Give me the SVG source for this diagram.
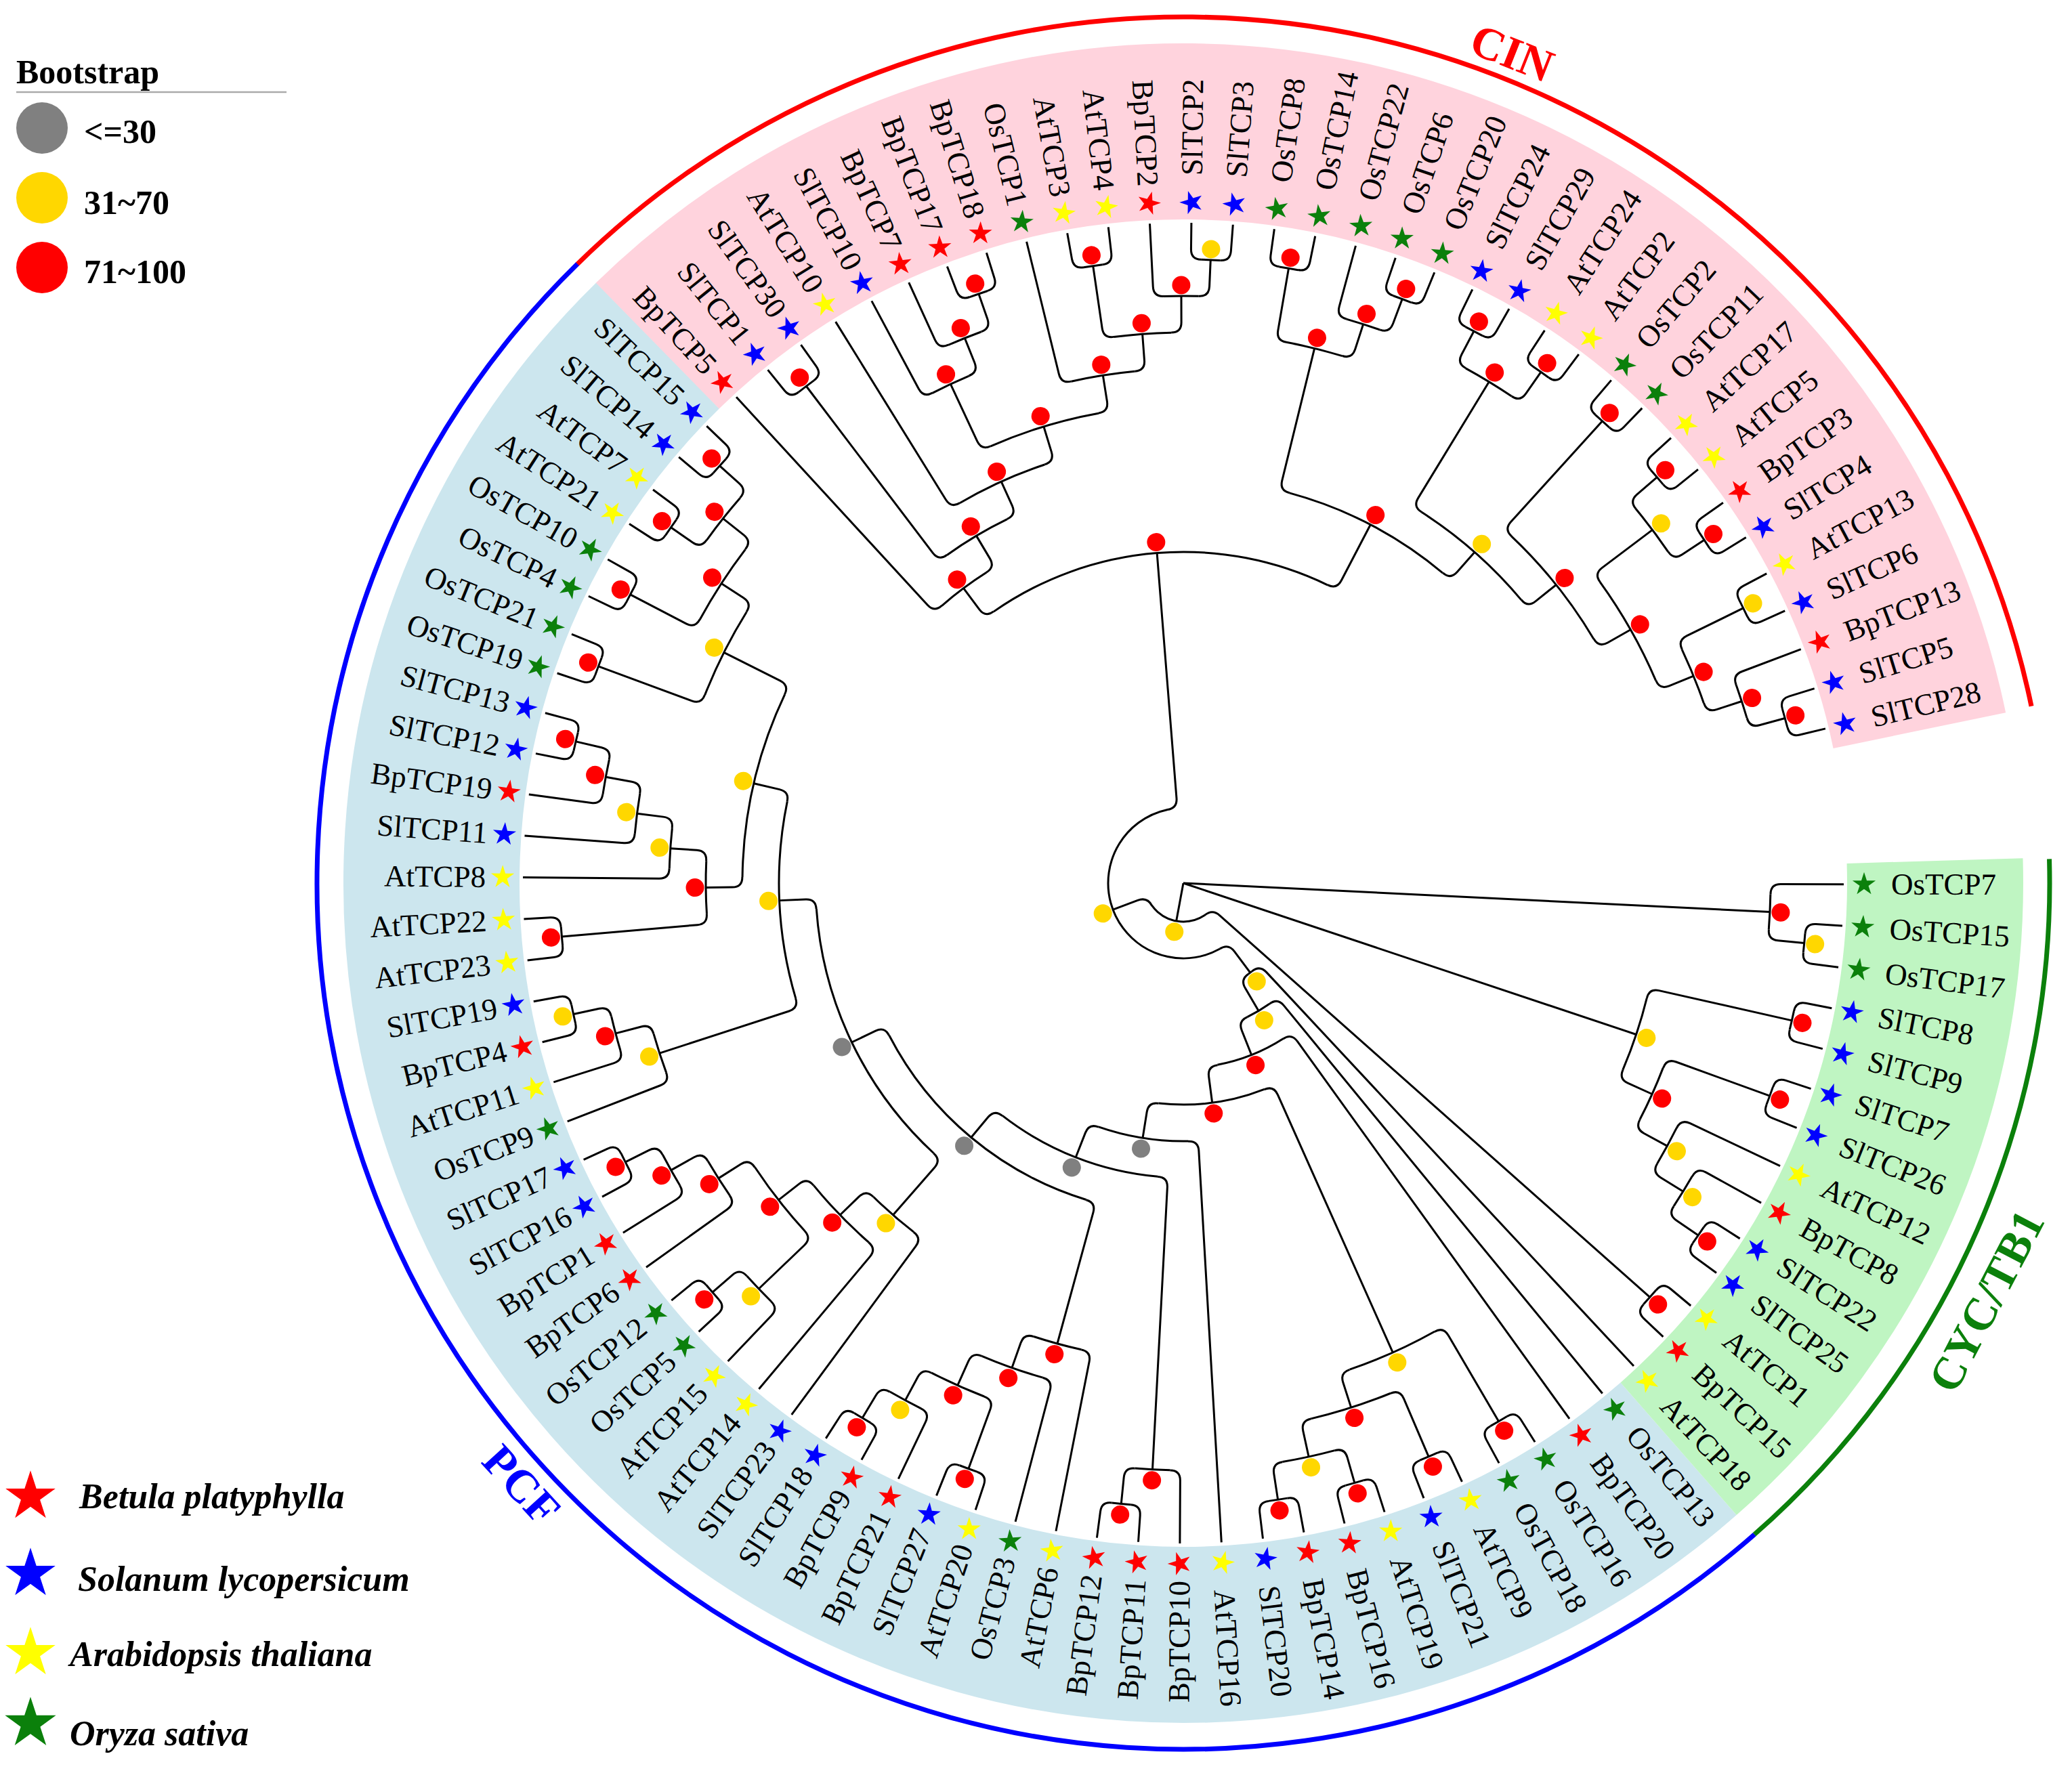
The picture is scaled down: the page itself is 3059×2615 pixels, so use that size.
<svg xmlns="http://www.w3.org/2000/svg" xmlns:xlink="http://www.w3.org/1999/xlink" width="3059" height="2615" viewBox="0 0 3059 2615">
<style>
.c{fill:none;stroke:#000;stroke-width:3}
.k{stroke-dasharray:0 15 28 99999}
.lb{font-family:"Liberation Serif","Times New Roman",serif;font-size:45px;fill:#000}
.e{text-anchor:end}
.R{fill:#FF0000}.B{fill:#0000FF}.Y{fill:#FFFF00}.G{fill:#0B800B}
.dr{fill:#FF0000}.dy{fill:#FFD700}.dg{fill:#808080}
.cl{font-family:"Liberation Serif","Times New Roman",serif;font-size:68px;font-weight:bold;text-anchor:middle}
.lg{font-family:"Liberation Serif","Times New Roman",serif;font-size:50px;font-weight:bold;fill:#000}
.sp{font-family:"Liberation Serif","Times New Roman",serif;font-size:52px;font-weight:bold;font-style:italic;fill:#000}
</style>
<defs>
<path id="s" d="M0-18L4.04-5.56L17.12-5.56L6.54 2.12L10.58 14.56L0 6.88L-10.58 14.56L-6.54 2.12L-17.12-5.56L-4.04-5.56Z"/>
</defs>
<rect width="3059" height="2615" fill="#fff"/>
<g id="bands" transform="translate(1747 1304)" fill="none" stroke-width="260">
<circle r="1110" stroke="#FFD3DD" transform="rotate(225.6)" stroke-dasharray="2376.5 99999"/>
<circle r="1110" stroke="#CCE6EE" transform="rotate(48.805)" stroke-dasharray="3425.2 99999"/>
<circle r="1110" stroke="#BFF5C2" transform="rotate(-1.7)" stroke-dasharray="978.3 99999"/>
</g>
<g id="clade-arcs" transform="translate(1747 1304)" fill="none" stroke-width="7">
<circle r="1279" stroke="#FF0000" transform="rotate(225.6)" stroke-dasharray="2736.8 99999"/>
<circle r="1279" stroke="#0000FF" transform="rotate(48.75)" stroke-dasharray="3947.8 99999"/>
<circle r="1279" stroke="#0B800B" transform="rotate(-1.6)" stroke-dasharray="1124 99999"/>
</g>
<g id="clade-labels">
<text class="cl" fill="#FF0000" dy=".33em" transform="translate(1747 1304) rotate(291.6) translate(1318 0) rotate(90)">CIN</text>
<text class="cl" fill="#0000FF" dy=".33em" transform="translate(1747 1304) rotate(137.7) translate(1321 0) rotate(-90)">PCF</text>
<text class="cl" fill="#0B800B" dy=".33em" transform="translate(1747 1304) rotate(27.5) translate(1337 0) rotate(-90)">CYC/TB1</text>
</g>
<g id="connectors" class="c" transform="translate(1747 1304)">
<circle r="921" class="k" transform="rotate(3.71)"/>
<circle r="867" transform="rotate(0.1)" stroke-dasharray="0 15 51.9 99999"/>
<circle r="921" class="k" transform="rotate(10.92)"/>
<circle r="921" class="k" transform="rotate(18.14)"/>
<circle r="921" class="k" transform="rotate(32.57)"/>
<circle r="867" transform="rotate(28.96)" stroke-dasharray="0 15 51.9 99999"/>
<circle r="813" transform="rotate(25.36)" stroke-dasharray="0 15 59.5 99999"/>
<circle r="759" transform="rotate(19.945)" stroke-dasharray="0 15 83.5 99999"/>
<circle r="705" transform="rotate(12.725)" stroke-dasharray="0 15 111.6 99999"/>
<circle r="921" class="k" transform="rotate(39.79)"/>
<circle r="921" class="k" transform="rotate(57.83)"/>
<circle r="921" class="k" transform="rotate(65.04)"/>
<circle r="921" class="k" transform="rotate(72.26)"/>
<circle r="921" class="k" transform="rotate(79.48)"/>
<circle r="867" transform="rotate(74.065)" stroke-dasharray="0 15 79.2 99999"/>
<circle r="813" transform="rotate(66.845)" stroke-dasharray="0 15 123.6 99999"/>
<circle r="759" transform="rotate(59.635)" stroke-dasharray="0 15 137.2 99999"/>
<circle r="921" class="k" transform="rotate(93.91)"/>
<circle r="867" transform="rotate(90.3)" stroke-dasharray="0 15 51.9 99999"/>
<circle r="921" class="k" transform="rotate(108.34)"/>
<circle r="921" class="k" transform="rotate(119.16)"/>
<circle r="867" transform="rotate(115.56)" stroke-dasharray="0 15 51.8 99999"/>
<circle r="813" transform="rotate(110.145)" stroke-dasharray="0 15 85.2 99999"/>
<circle r="759" transform="rotate(104.73)" stroke-dasharray="0 15 95.5 99999"/>
<circle r="705" transform="rotate(101.12)" stroke-dasharray="0 15 72.8 99999"/>
<circle r="921" class="k" transform="rotate(137.2)"/>
<circle r="867" transform="rotate(133.6)" stroke-dasharray="0 15 51.8 99999"/>
<circle r="921" class="k" transform="rotate(151.64)"/>
<circle r="867" transform="rotate(148.03)" stroke-dasharray="0 15 51.9 99999"/>
<circle r="813" transform="rotate(144.42)" stroke-dasharray="0 15 59.6 99999"/>
<circle r="759" transform="rotate(136.3)" stroke-dasharray="0 15 119.4 99999"/>
<circle r="705" transform="rotate(129.99)" stroke-dasharray="0 15 117 99999"/>
<circle r="651" transform="rotate(126.38)" stroke-dasharray="0 15 78.9 99999"/>
<circle r="921" class="k" transform="rotate(166.07)"/>
<circle r="867" transform="rotate(162.46)" stroke-dasharray="0 15 51.9 99999"/>
<circle r="813" transform="rotate(158.85)" stroke-dasharray="0 15 59.7 99999"/>
<circle r="921" class="k" transform="rotate(173.28)"/>
<circle r="921" class="k" transform="rotate(191.32)"/>
<circle r="867" transform="rotate(187.72)" stroke-dasharray="0 15 51.8 99999"/>
<circle r="813" transform="rotate(184.11)" stroke-dasharray="0 15 59.5 99999"/>
<circle r="759" transform="rotate(180.5)" stroke-dasharray="0 15 59.6 99999"/>
<circle r="705" transform="rotate(175.085)" stroke-dasharray="0 15 78.2 99999"/>
<circle r="921" class="k" transform="rotate(198.54)"/>
<circle r="921" class="k" transform="rotate(205.76)"/>
<circle r="921" class="k" transform="rotate(212.97)"/>
<circle r="921" class="k" transform="rotate(220.19)"/>
<circle r="867" transform="rotate(214.775)" stroke-dasharray="0 15 79.3 99999"/>
<circle r="813" transform="rotate(207.56)" stroke-dasharray="0 15 123.6 99999"/>
<circle r="759" transform="rotate(200.345)" stroke-dasharray="0 15 137.2 99999"/>
<circle r="651" transform="rotate(179.48)" stroke-dasharray="0 15 278.8 99999"/>
<circle r="597" transform="rotate(162.01)" stroke-dasharray="0 15 293.6 99999"/>
<circle r="543" transform="rotate(131.17)" stroke-dasharray="0 15 409.5 99999"/>
<circle r="489" transform="rotate(105.3)" stroke-dasharray="0 15 388.7 99999"/>
<circle r="435" transform="rotate(93.01)" stroke-dasharray="0 15 249.6 99999"/>
<circle r="381" transform="rotate(86.69)" stroke-dasharray="0 15 134.5 99999"/>
<circle r="327" transform="rotate(65.95)" stroke-dasharray="0 15 158.9 99999"/>
<circle r="273" transform="rotate(54.22)" stroke-dasharray="0 15 104.8 99999"/>
<circle r="219" transform="rotate(50.61)" stroke-dasharray="0 15 37.9 99999"/>
<circle r="165" transform="rotate(47)" stroke-dasharray="0 15 6 99999"/>
<circle r="921" class="k" transform="rotate(231.01)"/>
<circle r="921" class="k" transform="rotate(249.05)"/>
<circle r="867" transform="rotate(245.44)" stroke-dasharray="0 15 51.9 99999"/>
<circle r="813" transform="rotate(241.84)" stroke-dasharray="0 15 59.5 99999"/>
<circle r="921" class="k" transform="rotate(259.88)"/>
<circle r="921" class="k" transform="rotate(270.7)"/>
<circle r="867" transform="rotate(267.09)" stroke-dasharray="0 15 51.9 99999"/>
<circle r="813" transform="rotate(261.68)" stroke-dasharray="0 15 85.2 99999"/>
<circle r="759" transform="rotate(256.27)" stroke-dasharray="0 15 95.5 99999"/>
<circle r="705" transform="rotate(244.995)" stroke-dasharray="0 15 167 99999"/>
<circle r="651" transform="rotate(238.23)" stroke-dasharray="0 15 137.8 99999"/>
<circle r="597" transform="rotate(232.815)" stroke-dasharray="0 15 103.4 99999"/>
<circle r="543" transform="rotate(227.4)" stroke-dasharray="0 15 82 99999"/>
<circle r="921" class="k" transform="rotate(277.92)"/>
<circle r="921" class="k" transform="rotate(288.74)"/>
<circle r="867" transform="rotate(285.13)" stroke-dasharray="0 15 51.9 99999"/>
<circle r="813" transform="rotate(279.72)" stroke-dasharray="0 15 85.2 99999"/>
<circle r="921" class="k" transform="rotate(295.96)"/>
<circle r="921" class="k" transform="rotate(303.17)"/>
<circle r="867" transform="rotate(297.76)" stroke-dasharray="0 15 79.2 99999"/>
<circle r="921" class="k" transform="rotate(310.39)"/>
<circle r="921" class="k" transform="rotate(317.6)"/>
<circle r="921" class="k" transform="rotate(324.82)"/>
<circle r="867" transform="rotate(319.405)" stroke-dasharray="0 15 79.3 99999"/>
<circle r="921" class="k" transform="rotate(332.04)"/>
<circle r="921" class="k" transform="rotate(342.86)"/>
<circle r="867" transform="rotate(339.25)" stroke-dasharray="0 15 51.9 99999"/>
<circle r="813" transform="rotate(333.84)" stroke-dasharray="0 15 85.2 99999"/>
<circle r="759" transform="rotate(323.015)" stroke-dasharray="0 15 167.2 99999"/>
<circle r="705" transform="rotate(312.195)" stroke-dasharray="0 15 194.8 99999"/>
<circle r="651" transform="rotate(301.37)" stroke-dasharray="0 15 196.8 99999"/>
<circle r="597" transform="rotate(283.78)" stroke-dasharray="0 15 257.3 99999"/>
<circle r="489" transform="rotate(233.31)" stroke-dasharray="0 15 518.4 99999"/>
<circle r="111" transform="rotate(53.24)" stroke-dasharray="0 15 381.1 99999"/>
<circle r="57" transform="rotate(41.595)" stroke-dasharray="0 15 87.1 99999"/>
<path transform="rotate(5.515)" d="M867-15Q867 0 882 0H921"/>
<path transform="rotate(2.81)" d="M0 0H867"/>
<path transform="rotate(12.725)" d="M705 15Q705 0 720 0H921"/>
<path transform="rotate(19.945)" d="M759 15Q759 0 774 0H921"/>
<path transform="rotate(34.375)" d="M867-15Q867 0 882 0H921"/>
<path transform="rotate(31.67)" d="M813-15Q813 0 828 0H867"/>
<path transform="rotate(28.515)" d="M759-15Q759 0 774 0H813"/>
<path transform="rotate(24.23)" d="M705-15Q705 0 720 0H759"/>
<path transform="rotate(18.48)" d="M0 0H705"/>
<path transform="rotate(41.595)" d="M55 15Q57 0 72 0H921"/>
<path transform="rotate(59.635)" d="M759 15Q759 0 774 0H921"/>
<path transform="rotate(66.845)" d="M813 15Q813 0 828 0H921"/>
<path transform="rotate(74.065)" d="M867 15Q867 0 882 0H921"/>
<path transform="rotate(81.28)" d="M867-15Q867 0 882 0H921"/>
<path transform="rotate(77.67)" d="M813-15Q813 0 828 0H867"/>
<path transform="rotate(72.26)" d="M759-15Q759 0 774 0H813"/>
<path transform="rotate(65.95)" d="M327 15Q327 0 342 0H759"/>
<path transform="rotate(95.715)" d="M867-15Q867 0 882 0H921"/>
<path transform="rotate(93.01)" d="M435 15Q435 0 450 0H867"/>
<path transform="rotate(110.145)" d="M813 15Q813 0 828 0H921"/>
<path transform="rotate(120.965)" d="M867-15Q867 0 882 0H921"/>
<path transform="rotate(118.26)" d="M813-15Q813 0 828 0H867"/>
<path transform="rotate(114.2)" d="M759-15Q759 0 774 0H813"/>
<path transform="rotate(109.47)" d="M705-15Q705 0 720 0H759"/>
<path transform="rotate(105.3)" d="M489 15Q489 0 504 0H705"/>
<path transform="rotate(139.005)" d="M867-15Q867 0 882 0H921"/>
<path transform="rotate(136.3)" d="M759 15Q759 0 774 0H867"/>
<path transform="rotate(153.44)" d="M867-15Q867 0 882 0H921"/>
<path transform="rotate(150.735)" d="M813-15Q813 0 828 0H867"/>
<path transform="rotate(147.58)" d="M759-15Q759 0 774 0H813"/>
<path transform="rotate(141.94)" d="M705-15Q705 0 720 0H759"/>
<path transform="rotate(135.965)" d="M651-15Q651 0 666 0H705"/>
<path transform="rotate(131.17)" d="M543 15Q543 0 558 0H651"/>
<path transform="rotate(167.875)" d="M867-15Q867 0 882 0H921"/>
<path transform="rotate(165.17)" d="M813-15Q813 0 828 0H867"/>
<path transform="rotate(162.01)" d="M597 15Q597 0 612 0H813"/>
<path transform="rotate(175.085)" d="M705 15Q705 0 720 0H921"/>
<path transform="rotate(193.125)" d="M867-15Q867 0 882 0H921"/>
<path transform="rotate(190.42)" d="M813-15Q813 0 828 0H867"/>
<path transform="rotate(187.265)" d="M759-15Q759 0 774 0H813"/>
<path transform="rotate(183.88)" d="M705-15Q705 0 720 0H759"/>
<path transform="rotate(179.48)" d="M651 15Q651 0 666 0H705"/>
<path transform="rotate(200.345)" d="M759 15Q759 0 774 0H921"/>
<path transform="rotate(207.56)" d="M813 15Q813 0 828 0H921"/>
<path transform="rotate(214.775)" d="M867 15Q867 0 882 0H921"/>
<path transform="rotate(221.995)" d="M867-15Q867 0 882 0H921"/>
<path transform="rotate(218.385)" d="M813-15Q813 0 828 0H867"/>
<path transform="rotate(212.97)" d="M759-15Q759 0 774 0H813"/>
<path transform="rotate(206.66)" d="M651-15Q651 0 666 0H759"/>
<path transform="rotate(193.07)" d="M597-15Q597 0 612 0H651"/>
<path transform="rotate(177.54)" d="M543-15Q543 0 558 0H597"/>
<path transform="rotate(154.355)" d="M489-15Q489 0 504 0H543"/>
<path transform="rotate(129.83)" d="M435-15Q435 0 450 0H489"/>
<path transform="rotate(111.42)" d="M381-15Q381 0 396 0H435"/>
<path transform="rotate(99.055)" d="M327-15Q327 0 342 0H381"/>
<path transform="rotate(82.5)" d="M273-15Q273 0 288 0H327"/>
<path transform="rotate(68.36)" d="M218.5-15Q219 0 234 0H273"/>
<path transform="rotate(59.485)" d="M164.3-15Q165 0 180 0H219"/>
<path transform="rotate(53.24)" d="M110 15Q111 0 126 0H165"/>
<path transform="rotate(232.815)" d="M597 15Q597 0 612 0H921"/>
<path transform="rotate(250.855)" d="M867-15Q867 0 882 0H921"/>
<path transform="rotate(248.15)" d="M813-15Q813 0 828 0H867"/>
<path transform="rotate(244.995)" d="M705 15Q705 0 720 0H813"/>
<path transform="rotate(261.68)" d="M813 15Q813 0 828 0H921"/>
<path transform="rotate(272.505)" d="M867-15Q867 0 882 0H921"/>
<path transform="rotate(269.8)" d="M813-15Q813 0 828 0H867"/>
<path transform="rotate(265.74)" d="M759-15Q759 0 774 0H813"/>
<path transform="rotate(261.005)" d="M705-15Q705 0 720 0H759"/>
<path transform="rotate(253)" d="M651-15Q651 0 666 0H705"/>
<path transform="rotate(245.615)" d="M597-15Q597 0 612 0H651"/>
<path transform="rotate(239.215)" d="M543-15Q543 0 558 0H597"/>
<path transform="rotate(233.31)" d="M489 15Q489 0 504 0H543"/>
<path transform="rotate(279.72)" d="M813 15Q813 0 828 0H921"/>
<path transform="rotate(290.545)" d="M867-15Q867 0 882 0H921"/>
<path transform="rotate(287.84)" d="M813-15Q813 0 828 0H867"/>
<path transform="rotate(283.78)" d="M597 15Q597 0 612 0H813"/>
<path transform="rotate(297.76)" d="M867 15Q867 0 882 0H921"/>
<path transform="rotate(304.975)" d="M867-15Q867 0 882 0H921"/>
<path transform="rotate(301.37)" d="M651 15Q651 0 666 0H867"/>
<path transform="rotate(312.195)" d="M705 15Q705 0 720 0H921"/>
<path transform="rotate(319.405)" d="M867 15Q867 0 882 0H921"/>
<path transform="rotate(326.625)" d="M867-15Q867 0 882 0H921"/>
<path transform="rotate(323.015)" d="M759 15Q759 0 774 0H867"/>
<path transform="rotate(333.84)" d="M813 15Q813 0 828 0H921"/>
<path transform="rotate(344.665)" d="M867-15Q867 0 882 0H921"/>
<path transform="rotate(341.96)" d="M813-15Q813 0 828 0H867"/>
<path transform="rotate(337.9)" d="M759-15Q759 0 774 0H813"/>
<path transform="rotate(330.46)" d="M705-15Q705 0 720 0H759"/>
<path transform="rotate(321.33)" d="M651-15Q651 0 666 0H705"/>
<path transform="rotate(311.35)" d="M597-15Q597 0 612 0H651"/>
<path transform="rotate(297.565)" d="M489-15Q489 0 504 0H597"/>
<path transform="rotate(265.44)" d="M110-15Q111 0 126 0H489"/>
<path transform="rotate(159.34)" d="M55-15Q57 0 72 0H111"/>
<path transform="rotate(100.47)" d="M0 0H57"/>
<path transform="rotate(0.1)" d="M867 15Q867 0 882 0H975"/>
<path transform="rotate(3.71)" d="M921 15Q921 0 936 0H975"/>
<path transform="rotate(7.32)" d="M921-15Q921 0 936 0H975"/>
<path transform="rotate(10.92)" d="M921 15Q921 0 936 0H975"/>
<path transform="rotate(14.53)" d="M921-15Q921 0 936 0H975"/>
<path transform="rotate(18.14)" d="M921 15Q921 0 936 0H975"/>
<path transform="rotate(21.75)" d="M921-15Q921 0 936 0H975"/>
<path transform="rotate(25.36)" d="M813 15Q813 0 828 0H975"/>
<path transform="rotate(28.96)" d="M867 15Q867 0 882 0H975"/>
<path transform="rotate(32.57)" d="M921 15Q921 0 936 0H975"/>
<path transform="rotate(36.18)" d="M921-15Q921 0 936 0H975"/>
<path transform="rotate(39.79)" d="M921 15Q921 0 936 0H975"/>
<path transform="rotate(43.4)" d="M921-15Q921 0 936 0H975"/>
<path transform="rotate(47)" d="M164.3 15Q165 0 180 0H975"/>
<path transform="rotate(50.61)" d="M218.5 15Q219 0 234 0H975"/>
<path transform="rotate(54.22)" d="M272.6 15Q273 0 288 0H975"/>
<path transform="rotate(57.83)" d="M921 15Q921 0 936 0H975"/>
<path transform="rotate(61.44)" d="M921-15Q921 0 936 0H975"/>
<path transform="rotate(65.04)" d="M921 15Q921 0 936 0H975"/>
<path transform="rotate(68.65)" d="M921-15Q921 0 936 0H975"/>
<path transform="rotate(72.26)" d="M921 15Q921 0 936 0H975"/>
<path transform="rotate(75.87)" d="M921-15Q921 0 936 0H975"/>
<path transform="rotate(79.48)" d="M921 15Q921 0 936 0H975"/>
<path transform="rotate(83.08)" d="M921-15Q921 0 936 0H975"/>
<path transform="rotate(86.69)" d="M381 15Q381 0 396 0H975"/>
<path transform="rotate(90.3)" d="M867 15Q867 0 882 0H975"/>
<path transform="rotate(93.91)" d="M921 15Q921 0 936 0H975"/>
<path transform="rotate(97.52)" d="M921-15Q921 0 936 0H975"/>
<path transform="rotate(101.12)" d="M705 15Q705 0 720 0H975"/>
<path transform="rotate(104.73)" d="M759 15Q759 0 774 0H975"/>
<path transform="rotate(108.34)" d="M921 15Q921 0 936 0H975"/>
<path transform="rotate(111.95)" d="M921-15Q921 0 936 0H975"/>
<path transform="rotate(115.56)" d="M867 15Q867 0 882 0H975"/>
<path transform="rotate(119.16)" d="M921 15Q921 0 936 0H975"/>
<path transform="rotate(122.77)" d="M921-15Q921 0 936 0H975"/>
<path transform="rotate(126.38)" d="M651 15Q651 0 666 0H975"/>
<path transform="rotate(129.99)" d="M705 15Q705 0 720 0H975"/>
<path transform="rotate(133.6)" d="M867 15Q867 0 882 0H975"/>
<path transform="rotate(137.2)" d="M921 15Q921 0 936 0H975"/>
<path transform="rotate(140.81)" d="M921-15Q921 0 936 0H975"/>
<path transform="rotate(144.42)" d="M813 15Q813 0 828 0H975"/>
<path transform="rotate(148.03)" d="M867 15Q867 0 882 0H975"/>
<path transform="rotate(151.64)" d="M921 15Q921 0 936 0H975"/>
<path transform="rotate(155.24)" d="M921-15Q921 0 936 0H975"/>
<path transform="rotate(158.85)" d="M813 15Q813 0 828 0H975"/>
<path transform="rotate(162.46)" d="M867 15Q867 0 882 0H975"/>
<path transform="rotate(166.07)" d="M921 15Q921 0 936 0H975"/>
<path transform="rotate(169.68)" d="M921-15Q921 0 936 0H975"/>
<path transform="rotate(173.28)" d="M921 15Q921 0 936 0H975"/>
<path transform="rotate(176.89)" d="M921-15Q921 0 936 0H975"/>
<path transform="rotate(180.5)" d="M759 15Q759 0 774 0H975"/>
<path transform="rotate(184.11)" d="M813 15Q813 0 828 0H975"/>
<path transform="rotate(187.72)" d="M867 15Q867 0 882 0H975"/>
<path transform="rotate(191.32)" d="M921 15Q921 0 936 0H975"/>
<path transform="rotate(194.93)" d="M921-15Q921 0 936 0H975"/>
<path transform="rotate(198.54)" d="M921 15Q921 0 936 0H975"/>
<path transform="rotate(202.15)" d="M921-15Q921 0 936 0H975"/>
<path transform="rotate(205.76)" d="M921 15Q921 0 936 0H975"/>
<path transform="rotate(209.36)" d="M921-15Q921 0 936 0H975"/>
<path transform="rotate(212.97)" d="M921 15Q921 0 936 0H975"/>
<path transform="rotate(216.58)" d="M921-15Q921 0 936 0H975"/>
<path transform="rotate(220.19)" d="M921 15Q921 0 936 0H975"/>
<path transform="rotate(223.8)" d="M921-15Q921 0 936 0H975"/>
<path transform="rotate(227.4)" d="M543 15Q543 0 558 0H975"/>
<path transform="rotate(231.01)" d="M921 15Q921 0 936 0H975"/>
<path transform="rotate(234.62)" d="M921-15Q921 0 936 0H975"/>
<path transform="rotate(238.23)" d="M651 15Q651 0 666 0H975"/>
<path transform="rotate(241.84)" d="M813 15Q813 0 828 0H975"/>
<path transform="rotate(245.44)" d="M867 15Q867 0 882 0H975"/>
<path transform="rotate(249.05)" d="M921 15Q921 0 936 0H975"/>
<path transform="rotate(252.66)" d="M921-15Q921 0 936 0H975"/>
<path transform="rotate(256.27)" d="M759 15Q759 0 774 0H975"/>
<path transform="rotate(259.88)" d="M921 15Q921 0 936 0H975"/>
<path transform="rotate(263.48)" d="M921-15Q921 0 936 0H975"/>
<path transform="rotate(267.09)" d="M867 15Q867 0 882 0H975"/>
<path transform="rotate(270.7)" d="M921 15Q921 0 936 0H975"/>
<path transform="rotate(274.31)" d="M921-15Q921 0 936 0H975"/>
<path transform="rotate(277.92)" d="M921 15Q921 0 936 0H975"/>
<path transform="rotate(281.52)" d="M921-15Q921 0 936 0H975"/>
<path transform="rotate(285.13)" d="M867 15Q867 0 882 0H975"/>
<path transform="rotate(288.74)" d="M921 15Q921 0 936 0H975"/>
<path transform="rotate(292.35)" d="M921-15Q921 0 936 0H975"/>
<path transform="rotate(295.96)" d="M921 15Q921 0 936 0H975"/>
<path transform="rotate(299.56)" d="M921-15Q921 0 936 0H975"/>
<path transform="rotate(303.17)" d="M921 15Q921 0 936 0H975"/>
<path transform="rotate(306.78)" d="M921-15Q921 0 936 0H975"/>
<path transform="rotate(310.39)" d="M921 15Q921 0 936 0H975"/>
<path transform="rotate(314)" d="M921-15Q921 0 936 0H975"/>
<path transform="rotate(317.6)" d="M921 15Q921 0 936 0H975"/>
<path transform="rotate(321.21)" d="M921-15Q921 0 936 0H975"/>
<path transform="rotate(324.82)" d="M921 15Q921 0 936 0H975"/>
<path transform="rotate(328.43)" d="M921-15Q921 0 936 0H975"/>
<path transform="rotate(332.04)" d="M921 15Q921 0 936 0H975"/>
<path transform="rotate(335.64)" d="M921-15Q921 0 936 0H975"/>
<path transform="rotate(339.25)" d="M867 15Q867 0 882 0H975"/>
<path transform="rotate(342.86)" d="M921 15Q921 0 936 0H975"/>
<path transform="rotate(346.47)" d="M921-15Q921 0 936 0H975"/>
</g>
<g id="internal-nodes" transform="translate(1747 1304)">
<g id="n-c01" transform="rotate(5.515)"><circle cx="937" r="13.5" class="dy"/></g>
<g id="n-C1" transform="rotate(2.81)"><circle cx="883" r="13.5" class="dr"/></g>
<g id="n-c34" transform="rotate(12.725)"><circle cx="937" r="13.5" class="dr"/></g>
<g id="n-c56" transform="rotate(19.945)"><circle cx="937" r="13.5" class="dr"/></g>
<g id="n-c9_10" transform="rotate(34.375)"><circle cx="937" r="13.5" class="dr"/></g>
<g id="n-c8" transform="rotate(31.67)"><circle cx="883" r="13.5" class="dy"/></g>
<g id="n-c7" transform="rotate(28.515)"><circle cx="829" r="13.5" class="dy"/></g>
<g id="n-c5" transform="rotate(24.23)"><circle cx="775" r="13.5" class="dr"/></g>
<g id="n-C2" transform="rotate(18.48)"><circle cx="721" r="13.5" class="dy"/></g>
<g id="n-N3" transform="rotate(41.595)"><circle cx="937" r="13.5" class="dr"/></g>
<g id="n-p16_17" transform="rotate(59.635)"><circle cx="937" r="13.5" class="dr"/></g>
<g id="n-p18_19" transform="rotate(66.845)"><circle cx="937" r="13.5" class="dr"/></g>
<g id="n-p20_21" transform="rotate(74.065)"><circle cx="937" r="13.5" class="dr"/></g>
<g id="n-p22_23" transform="rotate(81.28)"><circle cx="937" r="13.5" class="dr"/></g>
<g id="n-p20_23" transform="rotate(77.67)"><circle cx="883" r="13.5" class="dy"/></g>
<g id="n-N10" transform="rotate(72.26)"><circle cx="829" r="13.5" class="dr"/></g>
<g id="n-N9" transform="rotate(65.95)"><circle cx="775" r="13.5" class="dy"/></g>
<g id="n-p26_27" transform="rotate(95.715)"><circle cx="937" r="13.5" class="dr"/></g>
<g id="n-B93" transform="rotate(93.01)"><circle cx="883" r="13.5" class="dr"/></g>
<g id="n-p30_31" transform="rotate(110.145)"><circle cx="937" r="13.5" class="dr"/></g>
<g id="n-p33_34" transform="rotate(120.965)"><circle cx="937" r="13.5" class="dr"/></g>
<g id="n-q2" transform="rotate(118.26)"><circle cx="883" r="13.5" class="dy"/></g>
<g id="n-q3" transform="rotate(114.2)"><circle cx="829" r="13.5" class="dr"/></g>
<g id="n-q4" transform="rotate(109.47)"><circle cx="775" r="13.5" class="dr"/></g>
<g id="n-Q5" transform="rotate(105.3)"><circle cx="721" r="13.5" class="dr"/></g>
<g id="n-p38_39" transform="rotate(139.005)"><circle cx="937" r="13.5" class="dr"/></g>
<g id="n-s2" transform="rotate(136.3)"><circle cx="883" r="13.5" class="dy"/></g>
<g id="n-p42_43" transform="rotate(153.44)"><circle cx="937" r="13.5" class="dr"/></g>
<g id="n-t2" transform="rotate(150.735)"><circle cx="883" r="13.5" class="dr"/></g>
<g id="n-t3" transform="rotate(147.58)"><circle cx="829" r="13.5" class="dr"/></g>
<g id="n-P4" transform="rotate(141.94)"><circle cx="775" r="13.5" class="dr"/></g>
<g id="n-P5" transform="rotate(135.965)"><circle cx="721" r="13.5" class="dr"/></g>
<g id="n-P6" transform="rotate(131.17)"><circle cx="667" r="13.5" class="dy"/></g>
<g id="n-p46_47" transform="rotate(167.875)"><circle cx="937" r="13.5" class="dy"/></g>
<g id="n-u2" transform="rotate(165.17)"><circle cx="883" r="13.5" class="dr"/></g>
<g id="n-u3" transform="rotate(162.01)"><circle cx="829" r="13.5" class="dy"/></g>
<g id="n-p48_49" transform="rotate(175.085)"><circle cx="937" r="13.5" class="dr"/></g>
<g id="n-p53_54" transform="rotate(193.125)"><circle cx="937" r="13.5" class="dr"/></g>
<g id="n-v2" transform="rotate(190.42)"><circle cx="883" r="13.5" class="dr"/></g>
<g id="n-v3" transform="rotate(187.265)"><circle cx="829" r="13.5" class="dy"/></g>
<g id="n-v4" transform="rotate(183.88)"><circle cx="775" r="13.5" class="dy"/></g>
<g id="n-v5" transform="rotate(179.48)"><circle cx="721" r="13.5" class="dr"/></g>
<g id="n-p55_56" transform="rotate(200.345)"><circle cx="937" r="13.5" class="dr"/></g>
<g id="n-p57_58" transform="rotate(207.56)"><circle cx="937" r="13.5" class="dr"/></g>
<g id="n-p59_60" transform="rotate(214.775)"><circle cx="937" r="13.5" class="dr"/></g>
<g id="n-p61_62" transform="rotate(221.995)"><circle cx="937" r="13.5" class="dr"/></g>
<g id="n-w2" transform="rotate(218.385)"><circle cx="883" r="13.5" class="dr"/></g>
<g id="n-w3" transform="rotate(212.97)"><circle cx="829" r="13.5" class="dr"/></g>
<g id="n-w4" transform="rotate(206.66)"><circle cx="775" r="13.5" class="dy"/></g>
<g id="n-Y" transform="rotate(193.07)"><circle cx="667" r="13.5" class="dy"/></g>
<g id="n-N13" transform="rotate(177.54)"><circle cx="613" r="13.5" class="dy"/></g>
<g id="n-N12" transform="rotate(154.355)"><circle cx="559" r="13.5" class="dg"/></g>
<g id="n-N11" transform="rotate(129.83)"><circle cx="505" r="13.5" class="dg"/></g>
<g id="n-N8" transform="rotate(111.42)"><circle cx="451" r="13.5" class="dg"/></g>
<g id="n-N7" transform="rotate(99.055)"><circle cx="397" r="13.5" class="dg"/></g>
<g id="n-N6" transform="rotate(82.5)"><circle cx="343" r="13.5" class="dr"/></g>
<g id="n-N5" transform="rotate(68.36)"><circle cx="289" r="13.5" class="dr"/></g>
<g id="n-N4" transform="rotate(59.485)"><circle cx="235" r="13.5" class="dy"/></g>
<g id="n-N2" transform="rotate(53.24)"><circle cx="181" r="13.5" class="dy"/></g>
<g id="n-k64_65" transform="rotate(232.815)"><circle cx="937" r="13.5" class="dr"/></g>
<g id="n-k69_70" transform="rotate(250.855)"><circle cx="937" r="13.5" class="dr"/></g>
<g id="n-k68" transform="rotate(248.15)"><circle cx="883" r="13.5" class="dr"/></g>
<g id="n-k67" transform="rotate(244.995)"><circle cx="829" r="13.5" class="dr"/></g>
<g id="n-k72_73" transform="rotate(261.68)"><circle cx="937" r="13.5" class="dr"/></g>
<g id="n-k75_76" transform="rotate(272.505)"><circle cx="937" r="13.5" class="dy"/></g>
<g id="n-k74" transform="rotate(269.8)"><circle cx="883" r="13.5" class="dr"/></g>
<g id="n-ka3" transform="rotate(265.74)"><circle cx="829" r="13.5" class="dr"/></g>
<g id="n-k71" transform="rotate(261.005)"><circle cx="775" r="13.5" class="dr"/></g>
<g id="n-K5" transform="rotate(253)"><circle cx="721" r="13.5" class="dr"/></g>
<g id="n-K6" transform="rotate(245.615)"><circle cx="667" r="13.5" class="dr"/></g>
<g id="n-K7" transform="rotate(239.215)"><circle cx="613" r="13.5" class="dr"/></g>
<g id="n-K8" transform="rotate(233.31)"><circle cx="559" r="13.5" class="dr"/></g>
<g id="n-k77_78" transform="rotate(279.72)"><circle cx="937" r="13.5" class="dr"/></g>
<g id="n-k80_81" transform="rotate(290.545)"><circle cx="937" r="13.5" class="dr"/></g>
<g id="n-k79" transform="rotate(287.84)"><circle cx="883" r="13.5" class="dr"/></g>
<g id="n-kb3" transform="rotate(283.78)"><circle cx="829" r="13.5" class="dr"/></g>
<g id="n-k82_83" transform="rotate(297.76)"><circle cx="937" r="13.5" class="dr"/></g>
<g id="n-k84_85" transform="rotate(304.975)"><circle cx="937" r="13.5" class="dr"/></g>
<g id="n-kc2" transform="rotate(301.37)"><circle cx="883" r="13.5" class="dr"/></g>
<g id="n-k86_87" transform="rotate(312.195)"><circle cx="937" r="13.5" class="dr"/></g>
<g id="n-k88_89" transform="rotate(319.405)"><circle cx="937" r="13.5" class="dr"/></g>
<g id="n-k90_91" transform="rotate(326.625)"><circle cx="937" r="13.5" class="dr"/></g>
<g id="n-kd2" transform="rotate(323.015)"><circle cx="883" r="13.5" class="dy"/></g>
<g id="n-k92_93" transform="rotate(333.84)"><circle cx="937" r="13.5" class="dy"/></g>
<g id="n-k95_96" transform="rotate(344.665)"><circle cx="937" r="13.5" class="dr"/></g>
<g id="n-k94" transform="rotate(341.96)"><circle cx="883" r="13.5" class="dr"/></g>
<g id="n-ke3" transform="rotate(337.9)"><circle cx="829" r="13.5" class="dr"/></g>
<g id="n-kf4" transform="rotate(330.46)"><circle cx="775" r="13.5" class="dr"/></g>
<g id="n-kg5" transform="rotate(321.33)"><circle cx="721" r="13.5" class="dr"/></g>
<g id="n-kh6" transform="rotate(311.35)"><circle cx="667" r="13.5" class="dy"/></g>
<g id="n-K7b" transform="rotate(297.565)"><circle cx="613" r="13.5" class="dr"/></g>
<g id="n-CINroot" transform="rotate(265.44)"><circle cx="505" r="13.5" class="dr"/></g>
<g id="n-N1" transform="rotate(159.34)"><circle cx="127" r="13.5" class="dy"/></g>
<g id="n-N0" transform="rotate(100.47)"><circle cx="73" r="13.5" class="dy"/></g>
</g>
<g id="leaves" class="lb" transform="translate(1747 1304)">
<g id="OsTCP7" transform="rotate(0.1)"><use href="#s" x="1005" class="G"/><text x="1045" dy=".33em">OsTCP7</text></g>
<g id="OsTCP15" transform="rotate(3.71)"><use href="#s" x="1005" class="G"/><text x="1045" dy=".33em">OsTCP15</text></g>
<g id="OsTCP17" transform="rotate(7.32)"><use href="#s" x="1005" class="G"/><text x="1045" dy=".33em">OsTCP17</text></g>
<g id="SlTCP8" transform="rotate(10.92)"><use href="#s" x="1005" class="B"/><text x="1045" dy=".33em">SlTCP8</text></g>
<g id="SlTCP9" transform="rotate(14.53)"><use href="#s" x="1005" class="B"/><text x="1045" dy=".33em">SlTCP9</text></g>
<g id="SlTCP7" transform="rotate(18.14)"><use href="#s" x="1005" class="B"/><text x="1045" dy=".33em">SlTCP7</text></g>
<g id="SlTCP26" transform="rotate(21.75)"><use href="#s" x="1005" class="B"/><text x="1045" dy=".33em">SlTCP26</text></g>
<g id="AtTCP12" transform="rotate(25.36)"><use href="#s" x="1005" class="Y"/><text x="1045" dy=".33em">AtTCP12</text></g>
<g id="BpTCP8" transform="rotate(28.96)"><use href="#s" x="1005" class="R"/><text x="1045" dy=".33em">BpTCP8</text></g>
<g id="SlTCP22" transform="rotate(32.57)"><use href="#s" x="1005" class="B"/><text x="1045" dy=".33em">SlTCP22</text></g>
<g id="SlTCP25" transform="rotate(36.18)"><use href="#s" x="1005" class="B"/><text x="1045" dy=".33em">SlTCP25</text></g>
<g id="AtTCP1" transform="rotate(39.79)"><use href="#s" x="1005" class="Y"/><text x="1045" dy=".33em">AtTCP1</text></g>
<g id="BpTCP15" transform="rotate(43.4)"><use href="#s" x="1005" class="R"/><text x="1045" dy=".33em">BpTCP15</text></g>
<g id="AtTCP18" transform="rotate(47)"><use href="#s" x="1005" class="Y"/><text x="1045" dy=".33em">AtTCP18</text></g>
<g id="OsTCP13" transform="rotate(50.61)"><use href="#s" x="1005" class="G"/><text x="1045" dy=".33em">OsTCP13</text></g>
<g id="BpTCP20" transform="rotate(54.22)"><use href="#s" x="1005" class="R"/><text x="1045" dy=".33em">BpTCP20</text></g>
<g id="OsTCP16" transform="rotate(57.83)"><use href="#s" x="1005" class="G"/><text x="1045" dy=".33em">OsTCP16</text></g>
<g id="OsTCP18" transform="rotate(61.44)"><use href="#s" x="1005" class="G"/><text x="1045" dy=".33em">OsTCP18</text></g>
<g id="AtTCP9" transform="rotate(65.04)"><use href="#s" x="1005" class="Y"/><text x="1045" dy=".33em">AtTCP9</text></g>
<g id="SlTCP21" transform="rotate(68.65)"><use href="#s" x="1005" class="B"/><text x="1045" dy=".33em">SlTCP21</text></g>
<g id="AtTCP19" transform="rotate(72.26)"><use href="#s" x="1005" class="Y"/><text x="1045" dy=".33em">AtTCP19</text></g>
<g id="BpTCP16" transform="rotate(75.87)"><use href="#s" x="1005" class="R"/><text x="1045" dy=".33em">BpTCP16</text></g>
<g id="BpTCP14" transform="rotate(79.48)"><use href="#s" x="1005" class="R"/><text x="1045" dy=".33em">BpTCP14</text></g>
<g id="SlTCP20" transform="rotate(83.08)"><use href="#s" x="1005" class="B"/><text x="1045" dy=".33em">SlTCP20</text></g>
<g id="AtTCP16" transform="rotate(86.69)"><use href="#s" x="1005" class="Y"/><text x="1045" dy=".33em">AtTCP16</text></g>
<g id="BpTCP10" transform="rotate(-89.7)"><use href="#s" x="-1005" class="R"/><text x="-1030" dy=".33em" class="e">BpTCP10</text></g>
<g id="BpTCP11" transform="rotate(-86.09)"><use href="#s" x="-1005" class="R"/><text x="-1030" dy=".33em" class="e">BpTCP11</text></g>
<g id="BpTCP12" transform="rotate(-82.48)"><use href="#s" x="-1005" class="R"/><text x="-1030" dy=".33em" class="e">BpTCP12</text></g>
<g id="AtTCP6" transform="rotate(-78.88)"><use href="#s" x="-1005" class="Y"/><text x="-1030" dy=".33em" class="e">AtTCP6</text></g>
<g id="OsTCP3" transform="rotate(-75.27)"><use href="#s" x="-1005" class="G"/><text x="-1030" dy=".33em" class="e">OsTCP3</text></g>
<g id="AtTCP20" transform="rotate(-71.66)"><use href="#s" x="-1005" class="Y"/><text x="-1030" dy=".33em" class="e">AtTCP20</text></g>
<g id="SlTCP27" transform="rotate(-68.05)"><use href="#s" x="-1005" class="B"/><text x="-1030" dy=".33em" class="e">SlTCP27</text></g>
<g id="BpTCP21" transform="rotate(-64.44)"><use href="#s" x="-1005" class="R"/><text x="-1030" dy=".33em" class="e">BpTCP21</text></g>
<g id="BpTCP9" transform="rotate(-60.84)"><use href="#s" x="-1005" class="R"/><text x="-1030" dy=".33em" class="e">BpTCP9</text></g>
<g id="SlTCP18" transform="rotate(-57.23)"><use href="#s" x="-1005" class="B"/><text x="-1030" dy=".33em" class="e">SlTCP18</text></g>
<g id="SlTCP23" transform="rotate(-53.62)"><use href="#s" x="-1005" class="B"/><text x="-1030" dy=".33em" class="e">SlTCP23</text></g>
<g id="AtTCP14" transform="rotate(-50.01)"><use href="#s" x="-1005" class="Y"/><text x="-1030" dy=".33em" class="e">AtTCP14</text></g>
<g id="AtTCP15" transform="rotate(-46.4)"><use href="#s" x="-1005" class="Y"/><text x="-1030" dy=".33em" class="e">AtTCP15</text></g>
<g id="OsTCP5" transform="rotate(-42.8)"><use href="#s" x="-1005" class="G"/><text x="-1030" dy=".33em" class="e">OsTCP5</text></g>
<g id="OsTCP12" transform="rotate(-39.19)"><use href="#s" x="-1005" class="G"/><text x="-1030" dy=".33em" class="e">OsTCP12</text></g>
<g id="BpTCP6" transform="rotate(-35.58)"><use href="#s" x="-1005" class="R"/><text x="-1030" dy=".33em" class="e">BpTCP6</text></g>
<g id="BpTCP1" transform="rotate(-31.97)"><use href="#s" x="-1005" class="R"/><text x="-1030" dy=".33em" class="e">BpTCP1</text></g>
<g id="SlTCP16" transform="rotate(-28.36)"><use href="#s" x="-1005" class="B"/><text x="-1030" dy=".33em" class="e">SlTCP16</text></g>
<g id="SlTCP17" transform="rotate(-24.76)"><use href="#s" x="-1005" class="B"/><text x="-1030" dy=".33em" class="e">SlTCP17</text></g>
<g id="OsTCP9" transform="rotate(-21.15)"><use href="#s" x="-1005" class="G"/><text x="-1030" dy=".33em" class="e">OsTCP9</text></g>
<g id="AtTCP11" transform="rotate(-17.54)"><use href="#s" x="-1005" class="Y"/><text x="-1030" dy=".33em" class="e">AtTCP11</text></g>
<g id="BpTCP4" transform="rotate(-13.93)"><use href="#s" x="-1005" class="R"/><text x="-1030" dy=".33em" class="e">BpTCP4</text></g>
<g id="SlTCP19" transform="rotate(-10.32)"><use href="#s" x="-1005" class="B"/><text x="-1030" dy=".33em" class="e">SlTCP19</text></g>
<g id="AtTCP23" transform="rotate(-6.72)"><use href="#s" x="-1005" class="Y"/><text x="-1030" dy=".33em" class="e">AtTCP23</text></g>
<g id="AtTCP22" transform="rotate(-3.11)"><use href="#s" x="-1005" class="Y"/><text x="-1030" dy=".33em" class="e">AtTCP22</text></g>
<g id="AtTCP8" transform="rotate(0.5)"><use href="#s" x="-1005" class="Y"/><text x="-1030" dy=".33em" class="e">AtTCP8</text></g>
<g id="SlTCP11" transform="rotate(4.11)"><use href="#s" x="-1005" class="B"/><text x="-1030" dy=".33em" class="e">SlTCP11</text></g>
<g id="BpTCP19" transform="rotate(7.72)"><use href="#s" x="-1005" class="R"/><text x="-1030" dy=".33em" class="e">BpTCP19</text></g>
<g id="SlTCP12" transform="rotate(11.32)"><use href="#s" x="-1005" class="B"/><text x="-1030" dy=".33em" class="e">SlTCP12</text></g>
<g id="SlTCP13" transform="rotate(14.93)"><use href="#s" x="-1005" class="B"/><text x="-1030" dy=".33em" class="e">SlTCP13</text></g>
<g id="OsTCP19" transform="rotate(18.54)"><use href="#s" x="-1005" class="G"/><text x="-1030" dy=".33em" class="e">OsTCP19</text></g>
<g id="OsTCP21" transform="rotate(22.15)"><use href="#s" x="-1005" class="G"/><text x="-1030" dy=".33em" class="e">OsTCP21</text></g>
<g id="OsTCP4" transform="rotate(25.76)"><use href="#s" x="-1005" class="G"/><text x="-1030" dy=".33em" class="e">OsTCP4</text></g>
<g id="OsTCP10" transform="rotate(29.36)"><use href="#s" x="-1005" class="G"/><text x="-1030" dy=".33em" class="e">OsTCP10</text></g>
<g id="AtTCP21" transform="rotate(32.97)"><use href="#s" x="-1005" class="Y"/><text x="-1030" dy=".33em" class="e">AtTCP21</text></g>
<g id="AtTCP7" transform="rotate(36.58)"><use href="#s" x="-1005" class="Y"/><text x="-1030" dy=".33em" class="e">AtTCP7</text></g>
<g id="SlTCP14" transform="rotate(40.19)"><use href="#s" x="-1005" class="B"/><text x="-1030" dy=".33em" class="e">SlTCP14</text></g>
<g id="SlTCP15" transform="rotate(43.8)"><use href="#s" x="-1005" class="B"/><text x="-1030" dy=".33em" class="e">SlTCP15</text></g>
<g id="BpTCP5" transform="rotate(47.4)"><use href="#s" x="-1005" class="R"/><text x="-1030" dy=".33em" class="e">BpTCP5</text></g>
<g id="SlTCP1" transform="rotate(51.01)"><use href="#s" x="-1005" class="B"/><text x="-1030" dy=".33em" class="e">SlTCP1</text></g>
<g id="SlTCP30" transform="rotate(54.62)"><use href="#s" x="-1005" class="B"/><text x="-1030" dy=".33em" class="e">SlTCP30</text></g>
<g id="AtTCP10" transform="rotate(58.23)"><use href="#s" x="-1005" class="Y"/><text x="-1030" dy=".33em" class="e">AtTCP10</text></g>
<g id="SlTCP10" transform="rotate(61.84)"><use href="#s" x="-1005" class="B"/><text x="-1030" dy=".33em" class="e">SlTCP10</text></g>
<g id="BpTCP7" transform="rotate(65.44)"><use href="#s" x="-1005" class="R"/><text x="-1030" dy=".33em" class="e">BpTCP7</text></g>
<g id="BpTCP17" transform="rotate(69.05)"><use href="#s" x="-1005" class="R"/><text x="-1030" dy=".33em" class="e">BpTCP17</text></g>
<g id="BpTCP18" transform="rotate(72.66)"><use href="#s" x="-1005" class="R"/><text x="-1030" dy=".33em" class="e">BpTCP18</text></g>
<g id="OsTCP1" transform="rotate(76.27)"><use href="#s" x="-1005" class="G"/><text x="-1030" dy=".33em" class="e">OsTCP1</text></g>
<g id="AtTCP3" transform="rotate(79.88)"><use href="#s" x="-1005" class="Y"/><text x="-1030" dy=".33em" class="e">AtTCP3</text></g>
<g id="AtTCP4" transform="rotate(83.48)"><use href="#s" x="-1005" class="Y"/><text x="-1030" dy=".33em" class="e">AtTCP4</text></g>
<g id="BpTCP2" transform="rotate(87.09)"><use href="#s" x="-1005" class="R"/><text x="-1030" dy=".33em" class="e">BpTCP2</text></g>
<g id="SlTCP2" transform="rotate(270.7)"><use href="#s" x="1005" class="B"/><text x="1045" dy=".33em">SlTCP2</text></g>
<g id="SlTCP3" transform="rotate(274.31)"><use href="#s" x="1005" class="B"/><text x="1045" dy=".33em">SlTCP3</text></g>
<g id="OsTCP8" transform="rotate(277.92)"><use href="#s" x="1005" class="G"/><text x="1045" dy=".33em">OsTCP8</text></g>
<g id="OsTCP14" transform="rotate(281.52)"><use href="#s" x="1005" class="G"/><text x="1045" dy=".33em">OsTCP14</text></g>
<g id="OsTCP22" transform="rotate(285.13)"><use href="#s" x="1005" class="G"/><text x="1045" dy=".33em">OsTCP22</text></g>
<g id="OsTCP6" transform="rotate(288.74)"><use href="#s" x="1005" class="G"/><text x="1045" dy=".33em">OsTCP6</text></g>
<g id="OsTCP20" transform="rotate(292.35)"><use href="#s" x="1005" class="G"/><text x="1045" dy=".33em">OsTCP20</text></g>
<g id="SlTCP24" transform="rotate(295.96)"><use href="#s" x="1005" class="B"/><text x="1045" dy=".33em">SlTCP24</text></g>
<g id="SlTCP29" transform="rotate(299.56)"><use href="#s" x="1005" class="B"/><text x="1045" dy=".33em">SlTCP29</text></g>
<g id="AtTCP24" transform="rotate(303.17)"><use href="#s" x="1005" class="Y"/><text x="1045" dy=".33em">AtTCP24</text></g>
<g id="AtTCP2" transform="rotate(306.78)"><use href="#s" x="1005" class="Y"/><text x="1045" dy=".33em">AtTCP2</text></g>
<g id="OsTCP2" transform="rotate(310.39)"><use href="#s" x="1005" class="G"/><text x="1045" dy=".33em">OsTCP2</text></g>
<g id="OsTCP11" transform="rotate(314)"><use href="#s" x="1005" class="G"/><text x="1045" dy=".33em">OsTCP11</text></g>
<g id="AtTCP17" transform="rotate(317.6)"><use href="#s" x="1005" class="Y"/><text x="1045" dy=".33em">AtTCP17</text></g>
<g id="AtTCP5" transform="rotate(321.21)"><use href="#s" x="1005" class="Y"/><text x="1045" dy=".33em">AtTCP5</text></g>
<g id="BpTCP3" transform="rotate(324.82)"><use href="#s" x="1005" class="R"/><text x="1045" dy=".33em">BpTCP3</text></g>
<g id="SlTCP4" transform="rotate(328.43)"><use href="#s" x="1005" class="B"/><text x="1045" dy=".33em">SlTCP4</text></g>
<g id="AtTCP13" transform="rotate(332.04)"><use href="#s" x="1005" class="Y"/><text x="1045" dy=".33em">AtTCP13</text></g>
<g id="SlTCP6" transform="rotate(335.64)"><use href="#s" x="1005" class="B"/><text x="1045" dy=".33em">SlTCP6</text></g>
<g id="BpTCP13" transform="rotate(339.25)"><use href="#s" x="1005" class="R"/><text x="1045" dy=".33em">BpTCP13</text></g>
<g id="SlTCP5" transform="rotate(342.86)"><use href="#s" x="1005" class="B"/><text x="1045" dy=".33em">SlTCP5</text></g>
<g id="SlTCP28" transform="rotate(346.47)"><use href="#s" x="1005" class="B"/><text x="1045" dy=".33em">SlTCP28</text></g>
</g>
<g id="legend-bootstrap">
<text class="lg" x="24" y="123">Bootstrap</text>
<line x1="24" y1="136" x2="423" y2="136" stroke="#AAAAAA" stroke-width="2.5"/>
<circle cx="62" cy="189" r="38" fill="#808080"/>
<circle cx="62" cy="292" r="38" fill="#FFD700"/>
<circle cx="62" cy="395" r="38" fill="#FF0000"/>
<text class="lg" x="124" y="211">&lt;=30</text>
<text class="lg" x="124" y="316">31~70</text>
<text class="lg" x="124" y="418">71~100</text>
</g>
<g id="legend-species">
<use href="#s" class="R" transform="translate(45 2210) scale(2.15)"/>
<use href="#s" class="B" transform="translate(45 2324) scale(2.15)"/>
<use href="#s" class="Y" transform="translate(45 2441) scale(2.15)"/>
<use href="#s" class="G" transform="translate(45 2545) scale(2.2)"/>
<text class="sp" x="117" y="2227">Betula platyphylla</text>
<text class="sp" x="115" y="2349">Solanum lycopersicum</text>
<text class="sp" x="103" y="2460">Arabidopsis thaliana</text>
<text class="sp" x="103" y="2577">Oryza sativa</text>
</g>
</svg>
